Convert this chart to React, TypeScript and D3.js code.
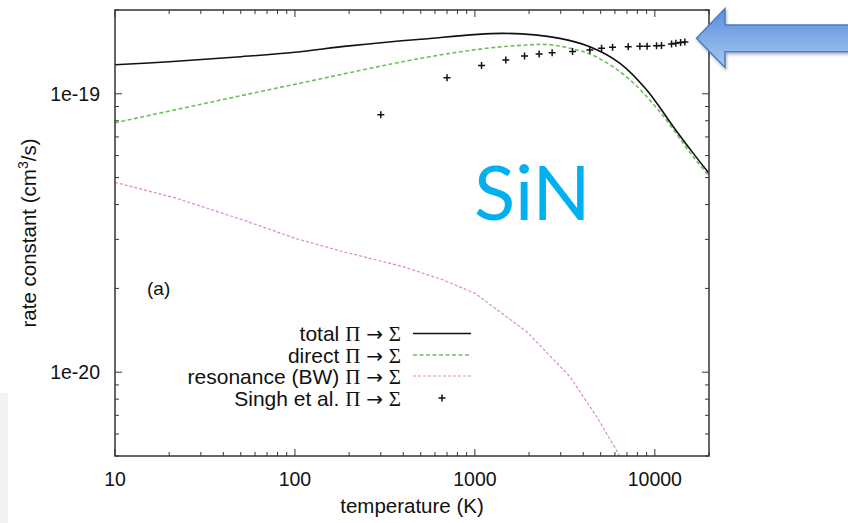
import React from "react";
import * as d3 from "d3";

// ---------- data ----------
const totalT = [10, 20, 50, 100, 200, 500, 1432, 2965, 4355, 6405, 9016, 12667, 16360, 20000];
const totalK = [1.272e-19, 1.304e-19, 1.359e-19, 1.41e-19, 1.486e-19, 1.57e-19, 1.649e-19, 1.582e-19, 1.476e-19, 1.287e-19, 1.032e-19, 7.62e-20, 6.11e-20, 5.18e-20];

const directT = [10, 30, 100, 500, 1163, 1941, 2547, 3378, 4550, 6980, 10680, 16360, 20000];
const directK = [7.87e-20, 9.17e-20, 1.082e-19, 1.341e-19, 1.457e-19, 1.497e-19, 1.503e-19, 1.457e-19, 1.373e-19, 1.149e-19, 8.6e-20, 5.93e-20, 5.08e-20];

const resT = [10, 22, 51.6, 100, 185.6, 400, 667.6, 1002, 1941, 3378, 4753, 6266, 7278];
const resK = [4.808e-20, 4.212e-20, 3.521e-20, 3.027e-20, 2.709e-20, 2.393e-20, 2.144e-20, 1.92e-20, 1.398e-20, 9.63e-21, 6.92e-21, 5.11e-21, 4.35e-21];

const singhT = [300, 700, 1089, 1486, 1888, 2276, 2687, 3490, 4355, 5058, 5823, 7112, 8256, 9060, 10220, 10890, 12380, 13090, 13900, 14690];
const singhK = [8.41e-20, 1.141e-19, 1.263e-19, 1.323e-19, 1.368e-19, 1.391e-19, 1.403e-19, 1.418e-19, 1.438e-19, 1.457e-19, 1.469e-19, 1.477e-19, 1.481e-19, 1.481e-19, 1.489e-19, 1.49e-19, 1.51e-19, 1.518e-19, 1.527e-19, 1.535e-19];

const xTickLabels = ["10", "100", "1000", "10000"];
const xTickValues = [10, 100, 1000, 10000];
const yTickLabels = ["1e-19", "1e-20"];
const yTickValues = [1e-19, 1e-20];

const legendLabels = ["total", "direct", "resonance (BW)", "Singh et al."];

// ---------- layout ----------
const W = 848, H = 523;
const L = 115, R = 709, T = 10, B = 456;

export default function App() {
  const x = d3.scaleLog().domain([10, 20000]).range([L, R]);
  const y = d3.scaleLog().domain([5e-21, 2e-19]).range([B, T]);

  const mk = (ts: number[], ks: number[], curve: any) =>
    d3.line<number>().x((_, i) => x(ts[i])).y((_, i) => y(ks[i])).curve(curve)(ts.map((_, i) => i)) || "";

  const xMinor: number[] = [];
  for (let d = 10; d <= 10000; d *= 10) for (let m = 2; m <= 9; m++) if (d * m <= 20000) xMinor.push(d * m);
  const yMinor: number[] = [];
  for (const d of [1e-21, 1e-20, 1e-19]) for (let m = 2; m <= 9; m++) { const v = d * m; if (v >= 5e-21 && v <= 2e-19) yMinor.push(v); }

  const axisColor = "#333";
  const font = "'Liberation Sans', Arial, sans-serif";
  const serif = "'Liberation Serif', 'Times New Roman', serif";

  const legendY = [333.5, 355, 376, 398];
  const plus = (cx: number, cy: number) => `M${cx - 3.5},${cy}h7M${cx},${cy - 3.5}v7`;

  return (
    <svg width={W} height={H} style={{ position: "absolute", left: 0, top: 0, background: "#fff" }} fontFamily={font}>
      <defs>
        <clipPath id="plot"><rect x={L} y={T} width={R - L} height={B - T} /></clipPath>
        <linearGradient id="arrowGrad" x1="0" y1="0" x2="0" y2="1">
          <stop offset="0" stopColor="#5b8ddb" />
          <stop offset="1" stopColor="#a6c9f3" />
        </linearGradient>
        <filter id="shadow" x="-10%" y="-20%" width="130%" height="160%">
          <feDropShadow dx="1" dy="2" stdDeviation="1.5" floodColor="#000" floodOpacity="0.3" />
        </filter>
      </defs>

      <rect x={0} y={393} width={8} height={130} fill="#f3f3f3" />

      {/* curves */}
      <g clipPath="url(#plot)">
        <path d={mk(resT, resK, d3.curveLinear)} fill="none" stroke="#d98bd0" strokeWidth={1.2} strokeDasharray="3,2" />
        <path d={mk(directT, directK, d3.curveCatmullRom.alpha(0.5))} fill="none" stroke="#6cc05a" strokeWidth={1.6} strokeDasharray="4,2.5" />
        <path d={mk(totalT, totalK, d3.curveCatmullRom.alpha(0.5))} fill="none" stroke="#111" strokeWidth={1.6} />
        {singhT.map((t, i) => (
          <path key={i} d={plus(x(t), y(singhK[i]))} stroke="#111" strokeWidth={1.5} />
        ))}
      </g>

      {/* frame */}
      <rect x={L} y={T} width={R - L} height={B - T} fill="none" stroke={axisColor} strokeWidth={1.5} />

      {/* x ticks */}
      {xTickValues.map((v) => (
        <g key={"xm" + v}>
          <line x1={x(v)} x2={x(v)} y1={B} y2={B - 7} stroke={axisColor} />
          <line x1={x(v)} x2={x(v)} y1={T} y2={T + 7} stroke={axisColor} />
        </g>
      ))}
      {xMinor.map((v) => (
        <g key={"xn" + v}>
          <line x1={x(v)} x2={x(v)} y1={B} y2={B - 4} stroke={axisColor} />
          <line x1={x(v)} x2={x(v)} y1={T} y2={T + 4} stroke={axisColor} />
        </g>
      ))}
      {xTickValues.map((v, i) => (
        <text key={"xl" + v} x={x(v)} y={486} textAnchor="middle" fontSize={19.5} fill="#111">{xTickLabels[i]}</text>
      ))}

      {/* y ticks */}
      {yTickValues.map((v) => (
        <g key={"ym" + v}>
          <line x1={L} x2={L + 7} y1={y(v)} y2={y(v)} stroke={axisColor} />
          <line x1={R} x2={R - 7} y1={y(v)} y2={y(v)} stroke={axisColor} />
        </g>
      ))}
      {yMinor.map((v) => (
        <g key={"yn" + v}>
          <line x1={L} x2={L + 4} y1={y(v)} y2={y(v)} stroke={axisColor} />
          <line x1={R} x2={R - 4} y1={y(v)} y2={y(v)} stroke={axisColor} />
        </g>
      ))}
      {yTickValues.map((v, i) => (
        <text key={"yl" + v} x={100} y={y(v) + 7} textAnchor="end" fontSize={19.5} fill="#111">{yTickLabels[i]}</text>
      ))}

      {/* axis titles */}
      <text x={(L + R) / 2} y={513} textAnchor="middle" fontSize={20.5} fill="#111">temperature (K)</text>
      <text transform={`translate(36,${(T + B) / 2}) rotate(-90)`} textAnchor="middle" fontSize={20.5} fill="#111">
        rate constant (cm<tspan dy={-8} fontSize={14}>3</tspan><tspan dy={8}>/s)</tspan>
      </text>

      <text x={147} y={295} fontSize={19} fill="#111">(a)</text>

      {/* legend */}
      {legendLabels.map((lab, i) => (
        <text key={lab} x={401} y={legendY[i] + 7.5} textAnchor="end" fontSize={21} fill="#111">
          {lab} <tspan fontFamily={serif}>Π</tspan> <tspan fontFamily="'DejaVu Sans', sans-serif" fontSize={20}>→</tspan> <tspan fontFamily={serif}>Σ</tspan>
        </text>
      ))}
      <line x1={413} x2={471} y1={legendY[0]} y2={legendY[0]} stroke="#111" strokeWidth={1.6} />
      <line x1={413} x2={471} y1={legendY[1]} y2={legendY[1]} stroke="#6cc05a" strokeWidth={1.6} strokeDasharray="4,2.5" />
      <line x1={413} x2={471} y1={legendY[2]} y2={legendY[2]} stroke="#d98bd0" strokeWidth={1.2} strokeDasharray="3,2" />
      <path d={plus(442, legendY[3])} stroke="#111" strokeWidth={1.5} />

      {/* SiN annotation */}
      <text x={474} y={220} fontSize={76} fontFamily="Lato, 'Open Sans', sans-serif" fill="#00b0f0">SiN</text>

      {/* arrow */}
      <path
        d="M696.5,38.3 L725,8.5 L725,25 L860,25 L860,51.7 L725,51.7 L725,67.5 Z"
        fill="url(#arrowGrad)" stroke="#4a7cc0" strokeWidth={1.5} filter="url(#shadow)"
      />
    </svg>
  );
}
